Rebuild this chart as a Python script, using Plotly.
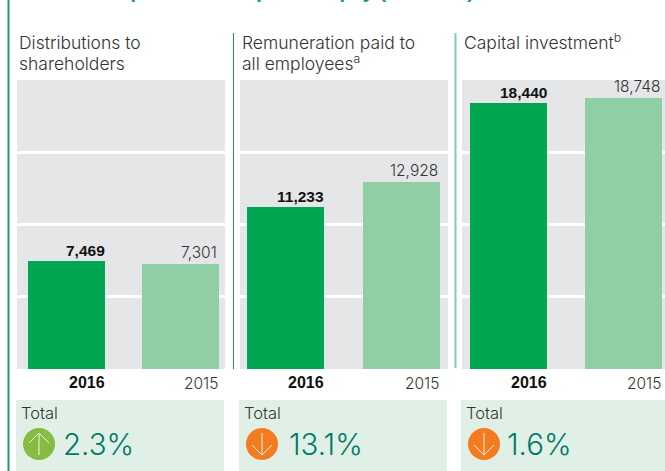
import plotly.graph_objects as go
from plotly.subplots import make_subplots

W, H = 665, 471
years = ["2016", "2015"]
panel_titles = [["Distributions to", "shareholders"],
                ["Remuneration paid to", "all employees<sup>a</sup>"],
                ["Capital investment<sup>b</sup>"]]
values_2016 = [7469, 11233, 18440]
values_2015 = [7301, 12928, 18748]
change_labels = ["2.3%", "13.1%", "1.6%"]
change_up = [True, False, False]
chart_title = "Relative importance of spend on pay ($ million)"

DARK, LIGHT = "#00a651", "#90cea4"
BG = "#e5e6e8"; TOTAL_BG = "#e1f0e6"; TEXT = "#333333"; BLACK = "#111111"; TEAL = "#007a66"
FONT = "Inter"
BOLD = "Liberation Sans"

# pixel layout of each panel: left, right, first bar left, bar spacing
BAR_W = 77
panels = [(17, 225, 28, 114), (240, 448, 247, 116), (462, 665, 470, 115)]
total_boxes = [(16, 224), (239, 447), (461, 665)]
pct_x = [61, 287, 505]
TOP, BOTTOM = 80, 369
px = lambda x: x / W
py = lambda y: 1 - y / H

fig = make_subplots(rows=1, cols=3)
ann, shp = [], []
for i, (l, r, b0, sp) in enumerate(panels):
    ax = "" if i == 0 else str(i + 1)
    vals = [values_2016[i], values_2015[i]]
    fig.add_trace(go.Bar(x=[0, 1], y=vals, marker=dict(color=[DARK, LIGHT], line_width=0),
                         width=BAR_W / sp, showlegend=False, hoverinfo="skip"), row=1, col=i + 1)
    c0 = b0 + BAR_W / 2
    fig.update_layout({
        f"xaxis{ax}": dict(domain=[px(l), px(r)], range=[(l - c0) / sp, (r - c0) / sp],
                           showticklabels=False, showgrid=False, zeroline=False, ticks="", fixedrange=True),
        f"yaxis{ax}": dict(domain=[py(BOTTOM), py(TOP)], range=[0, 20000], dtick=5000,
                           showticklabels=False, showgrid=True, gridcolor="white", gridwidth=3,
                           zeroline=False, ticks="", fixedrange=True),
    })
    for j, v in enumerate(vals):
        bold = j == 0
        ann.append(dict(xref=f"x{ax}", yref=f"y{ax}", x=j, y=v, xshift=BAR_W / 2 + (2 if bold else 0), yshift=0,
                        text=f"<b>{v:,}</b>" if bold else f"{v:,}", showarrow=False,
                        xanchor="right", yanchor="bottom", align="right",
                        font=dict(family=BOLD if bold else FONT, size=15.5,
                                  weight=700 if bold else 300, color=BLACK if bold else TEXT)))
        ann.append(dict(xref=f"x{ax}", yref="paper", x=j, y=py(372), xshift=BAR_W / 2 + (2 if bold else 1),
                        text=f"<b>{years[j]}</b>" if bold else years[j], showarrow=False,
                        xanchor="right", yanchor="top", align="right",
                        font=dict(family=BOLD if bold else FONT, size=16 if bold else 15.5,
                                  weight=700 if bold else 300, color=BLACK if bold else TEXT)))
    # heading, one annotation per line
    for k, line in enumerate(panel_titles[i]):
        ann.append(dict(xref="paper", yref="paper", x=px(l), y=py(30 + 20 * k + (1 if k == 1 else 0)), text=line,
                        yshift=2 if "<sup>" in line else 0,
                        showarrow=False, xanchor="left", yanchor="top", align="left",
                        font=dict(family=FONT, size=17.5, weight=300, color=TEXT)))
    # total box
    bl, br = total_boxes[i]
    shp.append(dict(type="rect", xref="paper", yref="paper", x0=px(bl), x1=px(br), y0=py(400), y1=py(H),
                    fillcolor=TOTAL_BG, line_width=0, layer="below"))
    ann.append(dict(xref="paper", yref="paper", x=px(bl + 3), y=py(401), text="Total", showarrow=False,
                    xanchor="left", yanchor="top", font=dict(family=FONT, size=16.5, weight=300, color=TEXT)))
    cx, cy, rad = bl + 23, 444, 16
    shp.append(dict(type="circle", xref="paper", yref="paper", x0=px(cx - rad), x1=px(cx + rad),
                    y0=py(cy + rad), y1=py(cy - rad), line_width=0,
                    fillcolor="#86bc42" if change_up[i] else "#f47b20"))
    s = -1 if change_up[i] else 1
    tip = cy + s * 11
    wing = tip - s * 10
    path = (f"M{px(cx)},{py(cy - s * 11)} L{px(cx)},{py(tip)} "
            f"M{px(cx - 10)},{py(wing)} L{px(cx)},{py(tip)} L{px(cx + 10)},{py(wing)}")
    shp.append(dict(type="path", xref="paper", yref="paper", path=path,
                    line=dict(color="#f4f4e8", width=1)))
    ann.append(dict(xref="paper", yref="paper", x=px(pct_x[i]), y=py(444), text=change_labels[i],
                    showarrow=False, xanchor="left", yanchor="middle",
                    font=dict(family=FONT, size=29.5, weight=300, color=TEAL)))

# rules
for x, y0, y1, c, w in [(8.5, 0, 471, "#1a9e5f", 2), (233.5, 33, 369, "#1a9e5f", 1), (455.5, 33, 368, "#7fcfa5", 2)]:
    shp.append(dict(type="line", xref="paper", yref="paper", x0=px(x), x1=px(x), y0=py(y0), y1=py(y1),
                    line=dict(color=c, width=w)))

ann.append(dict(xref="paper", yref="paper", x=px(23), y=py(4), text=f"<b>{chart_title}</b>", showarrow=False,
                xanchor="left", yanchor="bottom", font=dict(family="Liberation Sans", size=20, color="#1a9e5f")))

fig.update_layout(width=W, height=H, margin=dict(l=0, r=0, t=0, b=0), autosize=False,
                  paper_bgcolor="white", plot_bgcolor=BG, bargap=0, annotations=ann, shapes=shp,
                  font=dict(family=FONT), showlegend=False)
fig.write_html("out.html", config={"displayModeBar": False},
               post_script="document.body.style.margin='0';document.documentElement.style.overflow='hidden';")
